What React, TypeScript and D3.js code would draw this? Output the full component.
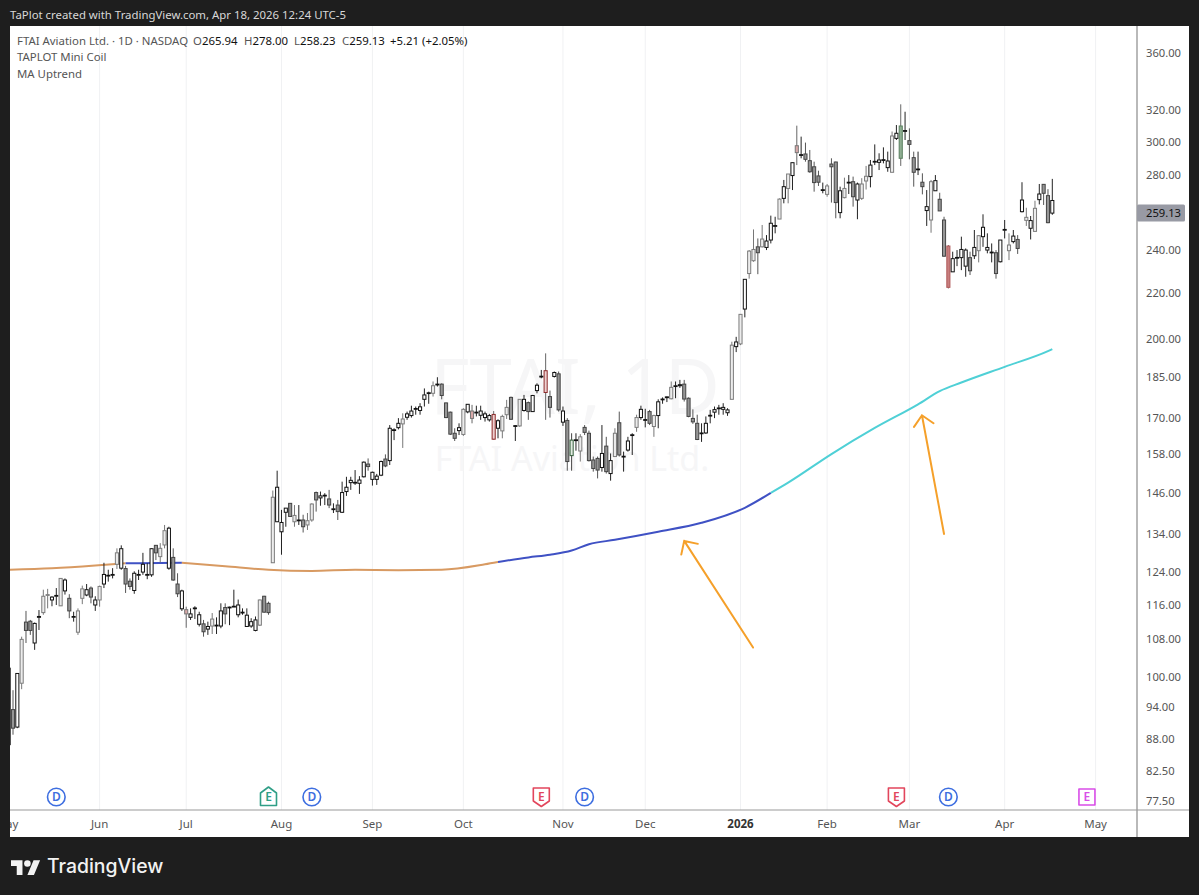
import { useEffect, useRef } from 'react';
import * as d3 from 'd3';

// candle values, one entry per trading day
const highs = [102.5,
  97.3,100.7,108.6,114.5,112.4,111.8,114.7,119.6,119.8,118,
  120,122.4,122.4,118.5,114.3,115.1,120.6,121,120.4,118,
  120.6,126.4,124.6,125,130.2,131,125.6,122.4,124.2,124.6,
  129,126.3,130.2,131.1,131.6,136.6,136.1,130.2,123.7,119.6,
  115.5,115.1,115.6,114.3,112.4,112,114,113,116.3,116.3,
  115.5,119.6,117.2,115.1,115.1,112.8,113.2,117.2,118.1,116.7,
  146.6,152.7,140.9,141.4,142.8,142.3,142.3,139.5,140,142.8,
  146.3,146.3,145.8,146.8,142.8,143.8,149.3,150.8,150.8,152.9,
  151,155.6,156.6,152.4,151.7,155.9,157.9,167.7,166.6,170.1,
  171.8,172.4,174.5,174.2,175.4,180.8,179.6,183.4,185,182.7,
  175.6,172.4,166.6,168.3,173.6,175,174.8,174.5,174.5,172.4,
  171.6,172.6,169.7,171.3,176.6,177.8,167.7,176.8,178.4,176,
  178.4,182.7,187.8,194.3,180,187.2,187.2,174.2,170.1,164.9,
  164.9,164.6,167.7,165.8,157.2,157.2,167.7,163.7,158.2,166.6,
  172.4,158.8,163.7,164.9,171.3,174.5,173.4,173,171.3,176.8,
  177.5,177.8,183.4,183.4,184,184,177.5,173.2,171.3,168.3,
  170.7,173,174.2,174.8,175.4,173.6,199,201,210.6,226.2,
  240.2,250.6,246,252.9,247.7,257.8,257.2,267.1,277.4,280.8,
  287.4,310.1,303.2,299.5,295,288,282.7,275.9,275.1,290,
  288,273.6,278.7,280.2,279.3,275.9,278.4,285.5,289,298.4,
  293,296.6,294,306.4,310.5,324,319.1,308.4,294,294,
  281.2,271.7,277.4,280.2,270.2,257.2,242.7,239.4,240.2,246.9,
  241,239.4,250.3,247.7,258.5,248.6,243.5,240.2,245.2,255.5,
  248.6,250.3,247.7,276.1,262,257.6,265.8,275.1,275.1,272.2,
  278];

const bodyTops = [101.8,
  93.5,100.7,108,111.9,112.1,111.6,113.2,118,118.4,117.8,
  118.2,122.4,122,117.5,113.2,114.5,119.8,119.6,120,117.1,
  120.4,123.4,123.2,123.4,129,130.1,124.9,121.7,123.7,123.4,
  126,123.4,130.1,131,130.2,135,135.7,127.8,121,119.3,
  114.8,113.8,115.2,113.6,111.5,110.9,112.6,111.2,114.5,115.3,
  115.4,115.6,115.9,114.2,113.5,112,112.4,117.1,118,116.3,
  144.6,147.6,137.3,141.4,142.8,139.3,138,138,137.8,142.6,
  146,145,145.2,144.1,141.2,142.3,146,147.6,149.7,149.1,
  149.8,155.4,154.8,152.2,151,155.6,156.4,166.6,166.1,168.3,
  169.8,171.6,172.6,173.5,174.1,178.4,179.2,181.8,182.4,182.4,
  175.5,172.2,164.9,166.8,173.2,175,172.6,172.2,172.6,171.6,
  171,171.4,169.2,170.7,173.9,177.5,167.5,176.8,176.8,175.6,
  178.2,182,185.4,187.5,177.8,186.8,186.3,172.6,169.3,162.6,
  162.7,163.7,166.9,164.9,156.1,156.6,158.2,160.6,155.9,164.9,
  168.5,157.3,162.3,164.4,170.3,173.2,169.6,172.4,171,175.9,
  176.9,177.7,181.2,181.8,182.2,182.4,177.2,170,168.3,165,
  168.3,171.1,173.1,173.7,173.9,173,197.6,198.9,210.5,226.2,
  239.7,240.5,241.8,245.7,244.7,253.8,252.6,266.7,273.6,280.8,
  287.4,297.6,292.2,292.6,288.6,285,279.7,271.9,274,286.6,
  287.8,271.3,272.6,276.1,276.4,275.1,275.1,279.5,286,288.2,
  289,289.2,288.4,303.6,305.3,309.9,307,300.7,290.4,283.7,
  276.1,262.6,276.4,277,266.6,255.5,242.2,236,236.6,240.5,
  240.2,236.5,241.5,247.4,251.7,241.5,239.2,238.9,245.2,250.6,
  242.7,247.2,245.5,266.2,256.9,255.2,261.7,269.5,274.9,268.6,
  265.94];

const bodyBottoms = [87,
  90,90.2,98.7,110,110,107.2,113,114.1,118.3,117.1,
  118.1,115.7,119.3,114.5,113.1,109.6,117.5,118.3,117.8,115.9,
  117.1,121,123,123.4,126,125,121,120.4,119.4,123.4,
  124,123.4,123.3,129,128,131.1,125,122,118.6,115,
  113.8,113,115.1,111.4,109.7,110.3,111,111.1,111,113.8,
  115.3,115.5,113.6,114.1,110.9,111,110,111.2,114.2,114.1,
  126.4,137.5,134.7,140.2,139,137.5,137.9,136.1,136.6,138,
  143.8,144.4,145.1,142.3,141.1,140.4,140.2,146.3,149,148.9,
  148.8,150.8,154,150,150,151.3,154.2,155.9,165.9,166.8,
  168.1,170.4,171,173.3,172.8,176.8,179,179,182.2,178.2,
  170.3,164.6,163.2,165.8,164.5,172.3,170,172,171.1,170.3,
  169.5,162.9,166.6,165.7,171.3,169.7,167.3,167.4,172.8,172.4,
  172.4,180,185.1,179.3,173.9,185.3,173,168.7,155.6,157.5,
  162.5,159,165.2,155.9,153.4,152.9,153.7,152.4,151.8,157.2,
  157.7,157.1,159.3,164.2,166.9,170.3,169.4,168.3,167.2,171,
  176.7,177.4,177,181.6,181.8,176.9,170.7,168.8,162.8,164.8,
  165,170.9,172.2,173.5,173.2,172,176.8,197,198.1,212.8,
  228.9,235,238.9,241.8,241.5,245.2,252.3,256,267.1,272.6,
  279.9,293.4,291.8,289.4,282.1,275.9,276.1,271.5,269.3,285,
  264.8,259.4,267.5,275.7,268,266.2,267.1,276.8,279.3,287.8,
  287.6,288.8,284.5,281.8,302.1,290,306.6,298.4,281.8,283.3,
  273.6,260.5,255.5,271.3,260.3,237.2,222.5,229.7,236.3,236.5,
  232.4,230.2,237.4,239.9,246.9,240.2,238.9,228.9,234.5,250.3,
  239.9,244.4,241,259.9,255.3,251.2,249.6,266.4,269.9,254.1,
  259.13];

const lows = [86.6,
  88.8,90,97.5,107.2,109,105.7,110.1,113.6,115.1,115.6,
  115.9,115.7,118.4,112.8,112,109,116.1,118,116.3,114.5,
  115.5,120,121.6,122.4,124.8,124.6,118.8,119.6,118.6,122,
  123.3,122.2,122.8,127.1,126.5,130.2,124.6,121.8,117.8,114.5,
  110.6,112.4,112.6,110.9,108.6,109,109.2,109.2,110.5,111.4,
  111.2,115.5,113,113.6,110.9,110.6,109.8,111,114.1,113.6,
  126.4,137.5,128.5,136.1,139,136.1,136.6,134.5,135.2,137.5,
  140.4,142.1,142.3,141.4,140,138,140,145,146.8,148.3,
  145.6,150.6,152.7,148.1,148.3,151,153.8,154.5,162.6,166.2,
  160,169.5,170.3,171.3,171.3,174.2,175.2,177.8,181.5,176.8,
  170.1,164.3,162.3,164.3,164,171.8,168.3,170.7,169.5,168.9,
  168.9,162.8,163.2,163.2,169.8,169.5,162.3,167.1,172.4,169.5,
  172.4,179,184.6,169.5,170.3,184.9,172.4,167.4,152.7,152.7,
  159.1,155.6,164.3,155.6,152.4,150.3,152.4,151.8,149.6,157.2,
  157.2,152.4,158.8,157.7,165.4,169.5,166.9,167.7,163.7,166.6,
  175.2,175.8,176.8,177.2,181,176,170.4,168.1,162.6,162,
  164.7,168.3,170.1,171.3,171.3,170.9,176.8,194.8,197.6,209.2,
  226.5,234.5,228.6,241.5,240.2,243.5,248.6,256,264.4,264.4,
  271.7,286,290,288,281.5,270.8,274,269.9,268,264.8,
  256.4,256.4,267.1,269.5,262.6,255.9,266.2,272,273.2,286,
  283.1,287,282.1,281.8,301.1,285.5,301.1,289.4,273.6,280.2,
  269.3,252.4,248.9,271.3,260.3,236.9,222,229.7,232.4,230.5,
  227.4,228.2,235.8,234.2,241.8,238.6,234.2,226.5,234.2,246,
  235.3,243.5,238.3,259.5,252.4,245.5,249.5,263.8,263.5,253.8,
  258.23];

// w white/black, l pale/grey, g grey, p pink, r red outline, x red fill, m green outline, n green fill
const candleKinds =
  'w' +
  'gwlggwwllw' + 'wlwgwllwgw' + 'lwwwlwggww' + 'wwwgllwggw' +
  'pwwwgwlwwg' + 'wwwwwwwlgg' + 'lwwwglwgll' + 'gwwgwgwwww' +
  'wwgwwwgwww' + 'lwwwwwwlwg' + 'gggwlwpwww' + 'wrwllgwlwg' +
  'wwwrgwgwgm' + 'wlggggwgwl' + 'gwwwlwwglw' + 'wwlwwggggw' +
  'wwwwwwlwlw' + 'llglwwwlwl' + 'wpwggggwlg' + 'gwlwgwllww' +
  'wwwlwnwggw' + 'gwlwggxwww' + 'wgwlwwwgww' + 'lwgwlwlwgg' +
  'w';

// moving average, read at these bar numbers
const maBars = [0, 10, 20, 27, 30, 40, 50, 60, 70, 80, 90, 100, 110, 113, 120, 125, 130, 134, 140, 150, 160, 170, 176, 180, 190, 200, 210, 215, 220, 230, 240, 241];
const maValues = [124.6, 125, 125.7, 126.3, 126.3, 126.4, 125.5, 124.6, 124.3, 124.6, 124.5, 124.6, 126, 126.6, 127.8, 128.5, 129.6, 131.3, 132.5, 134.7, 137.2, 141.5, 145.9, 149, 158, 166.7, 175, 179.8, 183, 189, 195.2, 196];
const maColors = ['#d89a62', '#3f51c4', '#d89a62', '#3f51c4', '#4fd0d6'];
const maBreaks = [0, 27, 40, 113, 176, 241];

const priceTicks = [360, 320, 300, 280, 240, 220, 200, 185, 170, 158, 146, 134, 124, 116, 108, 100, 94, 88, 82.5, 77.5];
const monthLabels = ['May', 'Jun', 'Jul', 'Aug', 'Sep', 'Oct', 'Nov', 'Dec', '2026', 'Feb', 'Mar', 'Apr', 'May'];
const monthBars = [-0.4, 21, 41, 63, 84, 105, 128, 147, 169, 189, 208, 230, 251];

const eventLabels = ['D', 'E', 'D', 'E', 'D', 'E', 'D', 'E'];
const eventKinds = ['div', 'up', 'div', 'down', 'div', 'down', 'div', 'next'];
const eventBars = [11, 60, 70, 123, 133, 205, 217, 249];

const arrowTailBars = [171.9, 216];
const arrowTailPrices = [106.2, 134.1];
const arrowTipBars = [156, 210.9];
const arrowTipPrices = [132.2, 171.1];

const lastPrice = 259.13;
const font = '"Noto Sans", sans-serif';

export default function App() {
  const ref = useRef<SVGSVGElement | null>(null);

  useEffect(() => {
    if (!ref.current) return;
    const width = 1199;
    const height = 895;
    const plot = { left: 10, top: 26, right: 1137, bottom: 810, edge: 1189, foot: 837 };

    const svg = d3.select(ref.current);
    svg.selectAll('*').remove();

    const x = d3.scaleLinear().domain([0, 241]).range([8.67, 1052.3]);
    const y = d3.scaleLog().domain([77.5, 360]).range([801, 53]);

    svg.append('rect').attr('width', width).attr('height', height).attr('fill', '#1e1e1e');
    svg.append('rect')
      .attr('x', plot.left).attr('y', plot.top)
      .attr('width', plot.edge - plot.left).attr('height', plot.foot - plot.top)
      .attr('fill', '#fff');

    svg.append('defs').append('clipPath').attr('id', 'pane').append('rect')
      .attr('x', plot.left).attr('y', plot.top)
      .attr('width', plot.right - plot.left).attr('height', plot.bottom - plot.top);
    svg.append('defs').append('clipPath').attr('id', 'timeaxis').append('rect')
      .attr('x', plot.left).attr('y', plot.bottom)
      .attr('width', plot.right - plot.left).attr('height', plot.foot - plot.bottom);

    const pane = svg.append('g').attr('clip-path', 'url(#pane)');

    // month grid
    pane.append('g').selectAll('line').data(monthBars).join('line')
      .attr('x1', (d) => x(d)).attr('x2', (d) => x(d))
      .attr('y1', plot.top).attr('y2', plot.bottom)
      .attr('stroke', '#f0f1f3');

    // watermark
    pane.append('text').attr('x', 575).attr('y', 414).attr('text-anchor', 'middle')
      .attr('font-family', font).attr('font-size', 76).attr('fill', '#f6f6f7').text('FTAI, 1D');
    pane.append('text').attr('x', 572).attr('y', 471).attr('text-anchor', 'middle')
      .attr('font-family', font).attr('font-size', 34).attr('fill', '#f6f6f7').text('FTAI Aviation Ltd.');

    // moving average, coloured by trend state
    const maPoints = maBars.map((b, i) => ({ b, v: maValues[i] }));
    const maLine = d3.line<{ b: number; v: number }>()
      .x((d) => x(d.b)).y((d) => y(d.v)).curve(d3.curveMonotoneX);
    maColors.forEach((color, i) => {
      pane.append('path')
        .attr('d', maLine(maPoints.filter((p) => p.b >= maBreaks[i] && p.b <= maBreaks[i + 1])))
        .attr('fill', 'none').attr('stroke', color).attr('stroke-width', 2);
    });

    // candles
    const fills: Record<string, string> = { w: '#fff', l: '#ececec', g: '#969696', p: '#d9a9a9', r: '#eed2d2', x: '#c77f7f', m: '#e2ebe2', n: '#8fae92' };
    const strokes: Record<string, string> = { w: '#111', l: '#7c7c7c', g: '#444', p: '#777', r: '#8c2a2a', x: '#b05a5a', m: '#35603c', n: '#5a7f5f' };
    const wicks: Record<string, string> = { w: '#222', l: '#777', g: '#555', p: '#666', r: '#666', x: '#666', m: '#444', n: '#666' };
    const bars = d3.range(highs.length);
    const candles = pane.append('g');
    candles.selectAll('line').data(bars).join('line')
      .attr('x1', (i) => x(i)).attr('x2', (i) => x(i))
      .attr('y1', (i) => y(highs[i])).attr('y2', (i) => y(lows[i]))
      .attr('stroke', (i) => wicks[candleKinds[i]]).attr('stroke-width', 1);
    candles.selectAll('rect').data(bars).join('rect')
      .attr('x', (i) => x(i) - 1.55).attr('width', 3.1)
      .attr('y', (i) => y(bodyTops[i]))
      .attr('height', (i) => Math.max(y(bodyBottoms[i]) - y(bodyTops[i]), 0.8))
      .attr('fill', (i) => fills[candleKinds[i]])
      .attr('stroke', (i) => strokes[candleKinds[i]]).attr('stroke-width', 1);

    // hand drawn arrows
    const arrows = pane.append('g').attr('stroke', '#f5a02a').attr('stroke-width', 2)
      .attr('stroke-linecap', 'round').attr('fill', 'none');
    arrowTailBars.forEach((_, i) => {
      const tx = x(arrowTipBars[i]);
      const ty = y(arrowTipPrices[i]);
      const fx = x(arrowTailBars[i]);
      const fy = y(arrowTailPrices[i]);
      const a = Math.atan2(fy - ty, fx - tx);
      const head = 14;
      const hx1 = tx + head * Math.cos(a - Math.PI / 4);
      const hy1 = ty + head * Math.sin(a - Math.PI / 4);
      const hx2 = tx + head * Math.cos(a + Math.PI / 4);
      const hy2 = ty + head * Math.sin(a + Math.PI / 4);
      arrows.append('path').attr('d', `M${fx},${fy}L${tx},${ty}M${hx1},${hy1}L${tx},${ty}L${hx2},${hy2}`);
    });

    // earnings and dividend markers
    const events = pane.append('g');
    eventBars.forEach((bar, i) => {
      const cx = x(bar);
      const kind = eventKinds[i];
      const cy = 797;
      const color = kind === 'div' ? '#3d6ee0' : kind === 'up' ? '#2f9e86' : kind === 'down' ? '#e2465c' : '#d94ee8';
      if (kind === 'div') {
        events.append('circle').attr('cx', cx).attr('cy', cy).attr('r', 8.8)
          .attr('fill', '#fff').attr('stroke', color).attr('stroke-width', 1.6);
      } else {
        const l = cx - 8;
        const r = cx + 8;
        const shape = kind === 'up'
          ? `M${l},${cy - 4}L${cx},${cy - 10}L${r},${cy - 4}V${cy + 8.5}H${l}Z`
          : kind === 'down'
            ? `M${l},${cy - 9}H${r}V${cy + 4}L${cx},${cy + 9.5}L${l},${cy + 4}Z`
            : `M${l},${cy - 8}H${r}V${cy + 8}H${l}Z`;
        events.append('path').attr('d', shape).attr('fill', '#fff').attr('stroke', color)
          .attr('stroke-width', 1.6).attr('stroke-linejoin', 'round');
      }
      events.append('text').attr('x', cx).attr('y', cy + 4.2).attr('text-anchor', 'middle')
        .attr('font-family', font).attr('font-size', 12).attr('font-weight', 600)
        .attr('fill', color).text(eventLabels[i]);
    });

    // pane borders
    svg.append('line').attr('x1', plot.right).attr('x2', plot.right).attr('y1', plot.top).attr('y2', plot.foot)
      .attr('stroke', '#8a8a8a').attr('stroke-width', 1.2);
    svg.append('line').attr('x1', plot.left).attr('x2', plot.edge).attr('y1', plot.bottom).attr('y2', plot.bottom)
      .attr('stroke', '#9a9a9a').attr('stroke-width', 1.2);

    // price axis
    svg.append('g').selectAll('text').data(priceTicks).join('text')
      .attr('x', 1146).attr('y', (d) => y(d) + 4)
      .attr('font-family', font).attr('font-size', 11.2).attr('fill', '#555')
      .text((d) => d.toFixed(2));
    svg.append('rect').attr('x', plot.right).attr('y', y(lastPrice) - 8.5).attr('width', 48).attr('height', 17)
      .attr('rx', 1.5).attr('fill', '#989aa4');
    svg.append('text').attr('x', 1146).attr('y', y(lastPrice) + 4)
      .attr('font-family', font).attr('font-size', 11.2).attr('fill', '#111').text(lastPrice.toFixed(2));

    // time axis
    svg.append('g').attr('clip-path', 'url(#timeaxis)').selectAll('text').data(monthLabels).join('text')
      .attr('x', (_, i) => x(monthBars[i])).attr('y', 828).attr('text-anchor', 'middle')
      .attr('font-family', font).attr('font-size', 11.5)
      .attr('font-weight', (d) => (d === '2026' ? 700 : 400))
      .attr('fill', (d) => (d === '2026' ? '#333' : '#555')).text((d) => d);

    // header and legend
    svg.append('text').attr('x', 10).attr('y', 19).attr('font-family', font).attr('font-size', 11.4)
      .attr('fill', '#d8d8d8').text('TaPlot created with TradingView.com, Apr 18, 2026 12:24 UTC-5');
    const legend = svg.append('g').attr('font-family', font).attr('font-size', 11.4);
    legend.append('text').attr('x', 17).attr('y', 45).attr('fill', '#555').text('FTAI Aviation Ltd. · 1D · NASDAQ');
    const ohlc: [string, string][] = [['O', '265.94'], ['H', '278.00'], ['L', '258.23'], ['C', '259.13']];
    [193, 244, 294, 342].forEach((lx, i) => {
      const t = legend.append('text').attr('x', lx).attr('y', 45).attr('fill', '#555').text(ohlc[i][0]);
      t.append('tspan').attr('fill', '#111').text(ohlc[i][1]);
    });
    legend.append('text').attr('x', 390).attr('y', 45).attr('fill', '#111').text('+5.21 (+2.05%)');
    legend.append('text').attr('x', 17).attr('y', 61).attr('fill', '#555').text('TAPLOT Mini Coil');
    legend.append('text').attr('x', 17).attr('y', 78).attr('fill', '#555').text('MA Uptrend');

    // logo
    const logo = svg.append('g').attr('transform', 'translate(11,857) scale(0.82)').attr('fill', '#f2f2f2');
    logo.append('path').attr('d', 'M14 22H7V11H0V4h14v18zM28 22h-8l7.5-18h8L28 22z');
    logo.append('circle').attr('cx', 20).attr('cy', 8).attr('r', 4);
    svg.append('text').attr('x', 47).attr('y', 873).attr('font-family', 'Inter, sans-serif')
      .attr('font-size', 19.4).attr('font-weight', 500).attr('fill', '#f2f2f2').text('TradingView');
  }, []);

  return <svg ref={ref} width={1199} height={895} style={{ position: 'fixed', left: 0, top: 0 }} />;
}
